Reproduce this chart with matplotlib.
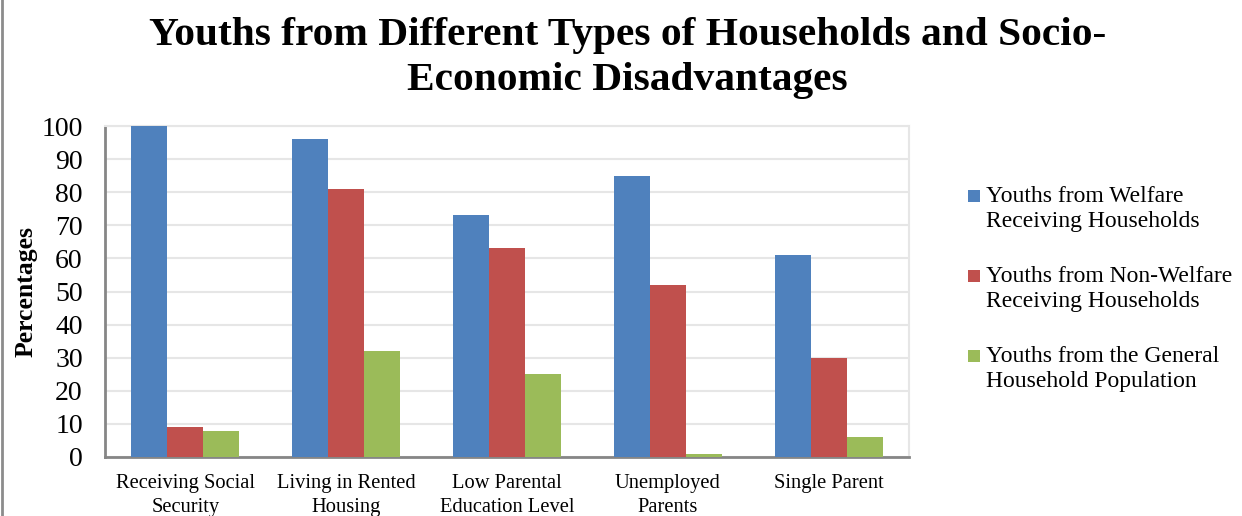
import numpy as np
import matplotlib.pyplot as plt
from matplotlib.patches import Rectangle
from matplotlib.lines import Line2D

plt.rcParams['font.family'] = 'Liberation Serif'

categories = ['Receiving Social\nSecurity', 'Living in Rented\nHousing',
              'Low Parental\nEducation Level', 'Unemployed\nParents', 'Single Parent']
series_names = ['Youths from Welfare\nReceiving Households',
                'Youths from Non-Welfare\nReceiving Households',
                'Youths from the General\nHousehold Population']
welfare = [100, 96, 73, 85, 61]
non_welfare = [9, 81, 63, 52, 30]
general = [8, 32, 25, 1, 6]
colors = ['#4F81BD', '#C0504D', '#9BBB59']

W, H = 1242, 516
fig = plt.figure(figsize=(W / 100, H / 100), dpi=100, facecolor='white')
ax = fig.add_axes([105 / W, 59 / H, 804 / W, 331 / H])

x = np.arange(len(categories))
w = 0.224
for i, vals in enumerate([welfare, non_welfare, general]):
    ax.bar(x + (i - 1) * w, vals, width=w, color=colors[i], zorder=3)

ax.set_xlim(-0.5, len(categories) - 0.5)
ax.set_ylim(0, 100)
ax.set_yticks(range(0, 101, 10))
ax.yaxis.grid(True, color='#E6E6E6', linewidth=1.5, zorder=0)
ax.set_xticks(x)
ax.set_xticklabels(categories, fontsize=14.8, linespacing=1.38)
ax.tick_params(axis='x', length=0, pad=12)
ax.tick_params(axis='y', length=0, pad=16, labelsize=20)

for side in ['top', 'right']:
    ax.spines[side].set_color('#E6E6E6')
    ax.spines[side].set_linewidth(1.5)
ax.spines['bottom'].set_color('#868686')
ax.spines['bottom'].set_linewidth(2)
ax.spines['left'].set_color('#868686')
ax.spines['left'].set_linewidth(2)

ax.set_ylabel('Percentages', fontsize=18.5, fontweight='bold')
ax.yaxis.set_label_coords(-0.084, 0.5)

fig.suptitle('Youths from Different Types of Households and Socio-\nEconomic Disadvantages',
             x=0.505, y=0.968, fontsize=29.8, fontweight='bold', linespacing=1.3)

# legend drawn by hand so the swatch sits on the first line of each label
for i, (name, c) in enumerate(zip(series_names, colors)):
    yc = 209 + 80 * i
    fig.add_artist(Rectangle((968 / W, 1 - (196 + 80 * i + 6) / H), 12 / W, 12 / H,
                             transform=fig.transFigure, facecolor=c, edgecolor='none'))
    fig.text(986 / W, 1 - yc / H, name, fontsize=17, va='center', ha='left',
             linespacing=1.3)

# thin border down the left edge of the image
fig.add_artist(Line2D([0.0015, 0.0015], [0, 1], transform=fig.transFigure,
                      color='#8C8C8C', linewidth=2))

fig.savefig('out.png', dpi=100, facecolor='white')
